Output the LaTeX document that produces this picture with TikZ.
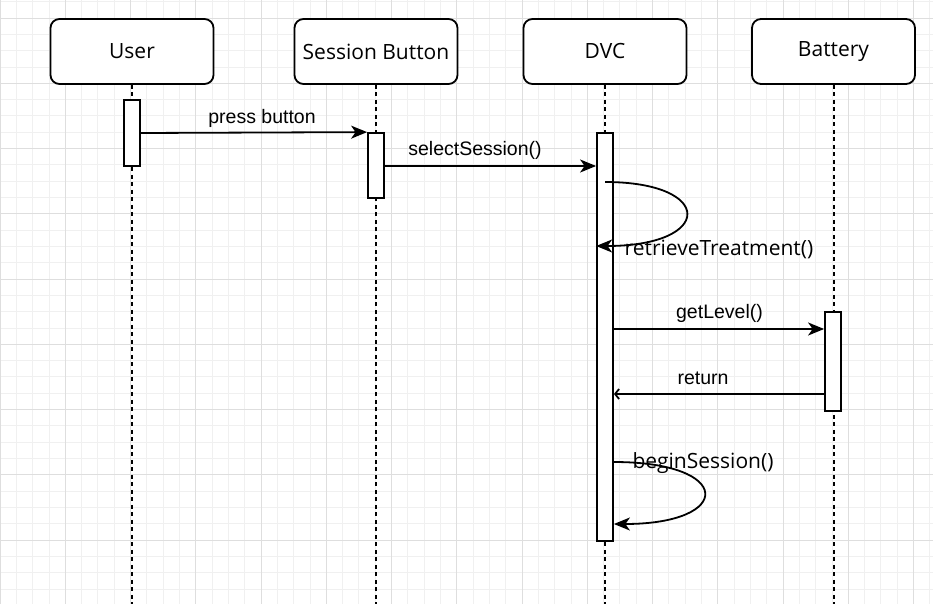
\documentclass[tikz,border=0pt]{standalone}
\usepackage{fontspec}
\setmainfont{Liberation Sans}
\newfontfamily\boxfont{Open Sans}
\usetikzlibrary{arrows.meta}

\tikzset{
  actor/.style={draw, line width=1.8pt, rounded corners=9pt, fill=white, minimum width=163pt, minimum height=65pt, inner sep=0pt, font=\boxfont\fontsize{21}{25}\selectfont},
  lifeline/.style={line width=2pt, dash pattern=on 4pt off 3.5pt},
  activation/.style={draw, line width=1.8pt, fill=white, minimum width=16pt, inner sep=0pt},
  msg/.style={line width=1.8pt, -{Stealth[length=16pt,width=13pt,inset=4.5pt]}},
  reply/.style={line width=1.8pt, -{Straight Barb[length=4pt,width=10pt]}},
  msglabel/.style={anchor=base, inner sep=0pt, font=\fontsize{19.5}{23}\selectfont},
  looplabel/.style={anchor=base, inner sep=0pt, font=\boxfont\fontsize{21}{25}\selectfont},
  minorgrid/.style={draw=black!6, line width=0.8pt},
  majorgrid/.style={draw=black!13, line width=0.8pt},
}

\begin{document}
\begin{tikzpicture}[x=1pt, y=-1pt]
            \useasboundingbox (0,0) rectangle (933,604);%

            % Drawing background grid
            \foreach \i in {0,...,57} \draw[minorgrid] ({\i*16.3125},0) -- ({\i*16.3125},604);%
            \foreach \j in {-1,...,36} \draw[minorgrid] (0,{18+\j*16.3125}) -- (933,{18+\j*16.3125});%
            \foreach \i in {0,...,14} \draw[majorgrid] ({\i*65.25},0) -- ({\i*65.25},604);%
            \foreach \j in {0,...,8} \draw[majorgrid] (0,{18+\j*65.25}) -- (933,{18+\j*65.25});%

            % Marking participants
            \node[actor] (user) at (132,51.5) {User};%
            \node[actor] (session) at (376,51.5) {Session Button};%
            \node[actor] (dvc) at (605,51.5) {DVC};%
            \node[actor] (battery) at (833.5,51.5) {Battery};%

            % Drawing lifelines
            \coordinate (bottom) at (0,604);%
            \draw[lifeline] (user.south) -- (user.south |- bottom);%
            \draw[lifeline] (session.south) -- (session.south |- bottom);%
            \draw[lifeline] (dvc.south) -- (dvc.south |- bottom);%
            \draw[lifeline] (battery.south) -- (battery.south |- bottom);%

            % Marking activation bars
            \node[activation, minimum height=66pt] (usract) at (132,133) {};%
            \node[activation, minimum height=65pt] (sesact) at (376,165.5) {};%
            \node[activation, minimum height=408pt] (dvcact) at (605,337) {};%
            \node[activation, minimum height=99pt] (batact) at (833,361.5) {};%

            % Message heights
            \coordinate (mselect) at (0,166);%
            \coordinate (mretr) at (0,182);%
            \coordinate (mretrend) at (0,246);%
            \coordinate (mget) at (0,329);%
            \coordinate (mret) at (0,394);%
            \coordinate (mbegin) at (0,462);%
            \coordinate (mbeginend) at (0,524);%

            % Drawing message press button
            \draw[msg] (usract.east) -- (sesact.north west);%
            \node[msglabel] (lpress) at (262,123.3) {press button};%

            % Drawing message selectSession()
            \draw[msg] (sesact.east |- mselect) -- (dvcact.west |- mselect);%
            \node[msglabel] (lselect) at (475,155.7) {selectSession()};%

            % Drawing self message retrieveTreatment()
            \draw[msg] (dvcact.center |- mretr) .. controls +(110,0) and +(118,0) .. (dvcact.west |- mretrend);%
            \node[looplabel] (lretr) at (719,255.5) {retrieveTreatment()};%

            % Drawing message getLevel()
            \draw[msg] (dvcact.east |- mget) -- (batact.west |- mget);%
            \node[msglabel] (lget) at (719.5,318.3) {getLevel()};%

            % Drawing reply return
            \draw[reply] (batact.west |- mret) -- (dvcact.east |- mret);%
            \node[msglabel] (lret) at (703,384) {return};%

            % Drawing self message beginSession()
            \draw[msg] (dvcact.east |- mbegin) .. controls +(120,0) and +(120,0) .. (dvcact.east |- mbeginend);%
            \node[looplabel] (lbegin) at (703,468.5) {beginSession()};%
\end{tikzpicture}
\end{document}
